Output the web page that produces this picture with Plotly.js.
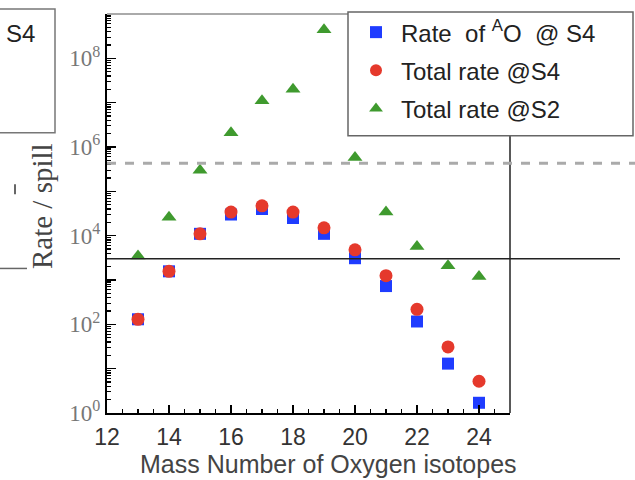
<!DOCTYPE html>
<html>
<head>
<meta charset="utf-8">
<script src="https://cdn.plot.ly/plotly-3.0.1.min.js"></script>
<style>html,body{margin:0;padding:0;background:#fff;}#chart{width:635px;height:480px;}</style>
</head>
<body>
<div id="chart"></div>
<script>
// Data
const massNumbers = [13, 14, 15, 16, 17, 18, 19, 20, 21, 22, 23, 24];
const rateAO_S4 = [130, 1570, 11000, 30000, 40000, 25000, 11000, 3100, 730, 116, 13, 1.7];
const totalRateS4 = [130, 1570, 11000, 34000, 47000, 34000, 15000, 4800, 1250, 218, 31, 5.2];
const totalRateS2 = [3500, 26000, 300000, 2100000, 11000000, 20000000, 440000000, 580000, 34000, 5700, 2100, 1200];
const seriesNames = ["Rate  of <sup>A</sup>O  @ S4", "Total rate @S4", "Total rate @S2"];
const xTickVals = [12, 14, 16, 18, 20, 22, 24];
const yDecades = [0, 1, 2, 3, 4, 5, 6, 7, 8, 9];
const solidLineRate = 3000;
const dashedLineRate = 430000;
const xTitle = "Mass Number of Oxygen isotopes";
const yTitle = "Rate / spill";
const sideLabel = "S4";

const yTickVals = yDecades.map(d => Math.pow(10, d));
const yTickText = yDecades.map(d => (d % 2 === 0 && d < 9) ? "10<sup>" + d + "</sup>" : "");
const yMinor = [];
yDecades.slice(0, 9).forEach(d => { for (let m = 2; m <= 9; m++) yMinor.push(m * Math.pow(10, d)); });

const traces = [
  {x: massNumbers, y: rateAO_S4, name: seriesNames[0], mode: "markers", type: "scatter", legendgroup: "a",
   marker: {symbol: "square", size: 12, color: "#1f3cff"}},
  {x: massNumbers, y: totalRateS4, name: seriesNames[1], mode: "markers", type: "scatter", legendgroup: "b",
   marker: {symbol: "circle", size: 13, color: "#e5392c"}},
  {x: massNumbers, y: totalRateS2, name: seriesNames[2], mode: "markers", type: "scatter", legendgroup: "c",
   marker: {symbol: "triangle-up", size: 13, color: "#3f9a2e"}}
];

const W = 403, H = 403, L = 107, T = 10; // plot box in px
const px = v => (v - L) / W;
const py = v => (T + H - v) / H;

const layout = {
  width: 635, height: 480,
  margin: {l: 107, r: 125, t: 10, b: 67},
  paper_bgcolor: "#fff", plot_bgcolor: "#fff",
  showlegend: true,
  font: {family: "Liberation Sans, Arial, sans-serif", color: "#222"},
  xaxis: {
    range: [12, 25], tickvals: xTickVals, ticks: "inside", ticklen: 8, tickwidth: 1.5, tickcolor: "#000",
    showline: true, linecolor: "#000", linewidth: 2, showgrid: false, zeroline: false,
    tickfont: {size: 23, color: "#333"}, ticklabelstandoff: 2,
    minor: {dtick: 0.5, tick0: 12, ticks: "inside", ticklen: 4, tickcolor: "#000", tickwidth: 1.2, showgrid: false}
  },
  yaxis: {
    type: "log", range: [0, 9], tickmode: "array", tickvals: yTickVals, ticktext: yTickText,
    ticks: "inside", ticklen: 9, tickwidth: 1.5, tickcolor: "#000",
    showline: true, linecolor: "#000", linewidth: 2, showgrid: false, zeroline: false,
    tickfont: {family: "Liberation Serif, Times New Roman, serif", size: 23, color: "#777"},
    minor: {tickmode: "array", tickvals: yMinor, ticks: "inside", ticklen: 4, tickcolor: "#000", tickwidth: 1.2, showgrid: false}
  },
  legend: {
    x: px(351), y: py(6), xanchor: "left", yanchor: "top",
    bgcolor: "rgba(0,0,0,0)", borderwidth: 0,
    font: {size: 24, color: "#222"}, traceorder: "grouped", tracegroupgap: 4,
    itemsizing: "constant", itemwidth: 40
  },
  shapes: [
    {type: "line", xref: "paper", yref: "paper", x0: 0, x1: 1, y0: 1, y1: 1, line: {color: "#aaa", width: 2}},
    {type: "line", xref: "paper", yref: "paper", x0: 1, x1: 1, y0: 0, y1: 1, line: {color: "#222", width: 1.5}},
    {type: "line", xref: "paper", yref: "y", x0: 0, x1: px(620), y0: solidLineRate, y1: solidLineRate, line: {color: "#222", width: 1.5}},
    {type: "line", xref: "paper", yref: "y", x0: 0, x1: px(640), y0: dashedLineRate, y1: dashedLineRate, line: {color: "#aaa", width: 3, dash: "dash"}},
    // legend box
    {type: "rect", xref: "paper", yref: "paper", layer: "above", x0: px(348), x1: px(633), y0: py(133), y1: py(8),
     line: {color: "#666", width: 1.5}, fillcolor: "#fff"},
    {type: "rect", xref: "paper", yref: "paper", x0: px(-5), x1: px(55), y0: py(130), y1: py(5), line: {color: "#777", width: 1.5}, fillcolor: "rgba(0,0,0,0)"},
    {type: "line", xref: "paper", yref: "paper", x0: px(-2), x1: px(27), y0: py(267), y1: py(267), line: {color: "#666", width: 1.5}},
    {type: "line", xref: "paper", yref: "paper", x0: px(15), x1: px(15), y0: py(182), y1: py(192), line: {color: "#333", width: 1.5}}
  ],
  annotations: [
    {text: xTitle, xref: "paper", yref: "paper", x: px(328), y: py(465), showarrow: false,
     font: {size: 25, color: "#444"}, xanchor: "center", yanchor: "middle"},
    {text: yTitle, xref: "paper", yref: "paper", x: px(42), y: py(204), textangle: -90, showarrow: false,
     font: {family: "Liberation Serif, Times New Roman, serif", size: 29, color: "#444"}, xanchor: "center", yanchor: "middle"},
    {text: sideLabel, xref: "paper", yref: "paper", x: px(20), y: py(30), showarrow: false,
     font: {size: 24, color: "#222"}, xanchor: "center", yanchor: "middle"}
  ]
};

Plotly.newPlot("chart", traces, layout, {displayModeBar: false, staticPlot: true});
</script>
</body>
</html>
